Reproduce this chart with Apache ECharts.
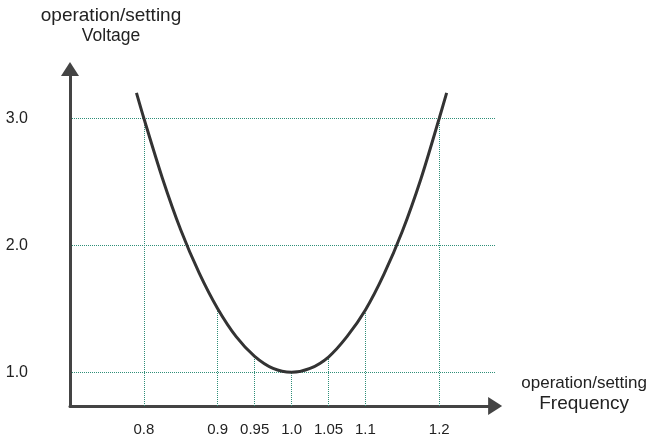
<!DOCTYPE html>
<html><head><meta charset="utf-8">
<script src="https://cdn.jsdelivr.net/npm/echarts@6/dist/echarts.min.js"></script>
<style>html,body{margin:0;padding:0;background:#fff}#c{width:650px;height:440px}</style>
</head><body><div id="c"></div>
<script>
// Curve: frequency (p.u.) vs voltage (p.u.)
const frequency = [0.79, 0.8, 0.825, 0.85, 0.875, 0.9, 0.925, 0.95, 0.975, 1.0,
                   1.025, 1.05, 1.075, 1.1, 1.125, 1.15, 1.175, 1.2, 1.21];
const voltage   = [3.2, 3.0, 2.53, 2.12, 1.78, 1.5, 1.28, 1.125, 1.03, 1.0,
                   1.03, 1.12, 1.28, 1.49, 1.77, 2.11, 2.52, 3.0, 3.2];
const xTickValues = [0.8, 0.9, 0.95, 1.0, 1.05, 1.1, 1.2];
const xTickLabels = ['0.8', '0.9', '0.95', '1.0', '1.05', '1.1', '1.2'];
const yTickValues = [1, 2, 3];
const yTickLabels = ['1.0', '2.0', '3.0'];
const xNameLines = ['operation/setting', 'Frequency'];
const yNameLines = ['operation/setting', 'Voltage'];
const X_MIN = 0.7, X_MAX = 1.275676, Y_MIN = 0.7343, Y_MAX = 3.3878;

const FONT = 'Liberation Sans, Arial, sans-serif';
const GRID_COLOR = '#2f8f78';
const curve = frequency.map((f, i) => [f, voltage[i]]);
const dropLines = xTickValues.map(t => {
  const i = frequency.findIndex(f => Math.abs(f - t) < 1e-9);
  return [{ coord: [t, Y_MIN] }, { coord: [t, voltage[i]] }];
});
function lookup(vals, labels) {
  return v => { const i = vals.findIndex(x => Math.abs(x - v) < 1e-9); return i < 0 ? '' : labels[i]; };
}

const chart = echarts.init(document.getElementById('c'), null, { renderer: 'canvas' });
chart.setOption({
  backgroundColor: '#ffffff',
  animation: false,
  grid: { left: 70, right: 154, top: 69, bottom: 34 },
  xAxis: {
    type: 'value', min: X_MIN, max: X_MAX,
    name: '{a|' + xNameLines[0] + '}\n{b|' + xNameLines[1] + '}',
    nameLocation: 'end', nameGap: 89,
    nameTextStyle: {
      align: 'center', verticalAlign: 'middle', padding: [0, 0, 24, 0],
      rich: {
        a: { fontSize: 17, lineHeight: 20, color: '#222', fontFamily: FONT, align: 'center' },
        b: { fontSize: 19, lineHeight: 22, color: '#222', fontFamily: FONT, align: 'center' }
      }
    },
    axisLine: { show: true, onZero: false, symbol: ['none', 'triangle'], symbolSize: [18, 14],
      lineStyle: { color: '#444', width: 3 } },
    axisTick: { show: false, customValues: xTickValues },
    axisLabel: { customValues: xTickValues, formatter: lookup(xTickValues, xTickLabels),
      fontSize: 15, color: '#222', margin: 16, fontFamily: FONT },
    splitLine: { show: false }
  },
  yAxis: {
    type: 'value', min: Y_MIN, max: Y_MAX,
    name: '{a|' + yNameLines[0] + '}\n{b|' + yNameLines[1] + '}',
    nameLocation: 'end', nameGap: 23,
    nameTextStyle: {
      align: 'center', verticalAlign: 'bottom', padding: [0, 0, 0, 82],
      rich: {
        a: { fontSize: 19, lineHeight: 21, color: '#222', fontFamily: FONT, align: 'center' },
        b: { fontSize: 17.5, lineHeight: 20, color: '#222', fontFamily: FONT, align: 'center' }
      }
    },
    axisLine: { show: true, onZero: false, symbol: ['none', 'triangle'], symbolSize: [18, 14],
      lineStyle: { color: '#444', width: 3 } },
    axisTick: { show: false, customValues: yTickValues },
    axisLabel: { customValues: yTickValues, formatter: lookup(yTickValues, yTickLabels),
      fontSize: 16, color: '#222', margin: 42, fontFamily: FONT },
    splitLine: { show: true, lineStyle: { color: GRID_COLOR, type: [1, 1], width: 1 } }
  },
  series: [{
    type: 'line', data: curve, smooth: 0.3, showSymbol: false, symbol: 'none',
    lineStyle: { color: '#333', width: 3 },
    z: 5,
    markLine: {
      silent: true, symbol: ['none', 'none'], label: { show: false },
      lineStyle: { color: GRID_COLOR, type: [1, 1], width: 1 },
      emphasis: { disabled: true },
      data: dropLines
    }
  }]
});
</script></body></html>
